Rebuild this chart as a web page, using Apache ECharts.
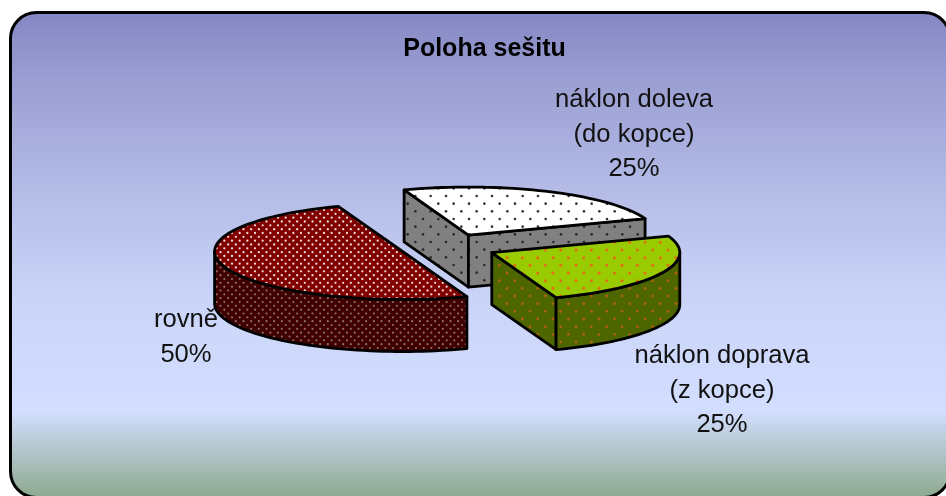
<!DOCTYPE html>
<html><head><meta charset="utf-8">
<style>html,body{margin:0;padding:0;background:#fff}#c{width:946px;height:496px}</style>
<script src="https://cdn.jsdelivr.net/npm/echarts@6/dist/echarts.min.js"></script>
</head><body><div id="c"></div>
<script>
// ---- data ----
var titleText = 'Poloha sešitu';
var categories = ['náklon doleva\n(do kopce)', 'náklon doprava\n(z kopce)', 'rovně'];
var values = [25, 25, 50];

// ---- pie layout (3D projection) ----
var firstAngle = 110, RX = 188, RY = 48, DEPTH = 52, CX = 448, CY = 247, EXPLODE_X = 0.257, EXPLODE_Y = 0.275;
var labelPos = [[634, 83], [722, 339], [186, 303]];
var LINE_H = 34.5, FONT = '"Liberation Sans", Arial, sans-serif';

function tile(bg, dot, nx, ny, ox, oy, r) {
  var S = 46, c = document.createElement('canvas');
  c.width = c.height = S;
  var g = c.getContext('2d');
  g.fillStyle = bg; g.fillRect(0, 0, S, S);
  g.fillStyle = dot;
  var px = S / nx, py = S / ny;
  for (var j = 0; j < ny; j++) for (var i = 0; i < nx; i++) {
    var x = ox + i * px + (j % 2 ? px / 2 : 0), y = oy + j * py;
    for (var a = -S; a <= S; a += S) for (var b = -S; b <= S; b += S) {
      g.beginPath(); g.arc(((x % S) + a), ((y % S) + b), r, 0, Math.PI * 2); g.fill();
    }
  }
  return { image: c, repeat: 'repeat' };
}
var fills = [
  { top: tile('#ffffff', '#333333', 3, 6, 32, 12, 1.3), side: tile('#808080', '#2a2a2a', 3, 6, 32, 12, 1.3) },
  { top: tile('#99cc00', '#e46e14', 3, 6, 8.7, 20, 1.5), side: tile('#4d6600', '#b06010', 3, 6, 8.7, 20, 1.4) },
  { top: tile('#800000', '#f0d8d8', 6, 12, 2, 3, 1.15), side: tile('#400000', '#8c7070', 6, 12, 2, 3, 1.1) }
];

var total = values.reduce(function (s, v) { return s + v; }, 0);
function rad(d) { return d * Math.PI / 180; }

function renderSlice(params, api) {
  var idx = params.dataIndex, before = 0;
  for (var i = 0; i < idx; i++) before += values[i];
  var v = api.value(0);
  var a0 = firstAngle - before / total * 360, a1 = a0 - v / total * 360, mid = (a0 + a1) / 2;
  var cx = CX + EXPLODE_X * RX * Math.cos(rad(mid)), cy = CY - EXPLODE_Y * RY * Math.sin(rad(mid));
  function P(t, dz) { return [cx + RX * Math.cos(rad(t)), cy - RY * Math.sin(rad(t)) + (dz || 0)]; }
  function arc(s, e, dz) {
    var pts = [], n = Math.max(2, Math.ceil(Math.abs(s - e) / 2));
    for (var k = 0; k <= n; k++) pts.push(P(s + (e - s) * k / n, dz));
    return pts;
  }
  var kids = [], f = fills[idx];
  function poly(points, fill) {
    kids.push({ type: 'polygon', shape: { points: points }, style: { fill: fill, stroke: '#000', lineWidth: 2.8, lineJoin: 'round' } });
  }
  var apex = [cx, cy], apexB = [cx, cy + DEPTH];
  // straight cut faces that look towards the viewer
  if (Math.sin(rad(a0 + 90)) < 0) { var p0 = P(a0), p0b = P(a0, DEPTH); poly([apex, p0, p0b, apexB], f.side); }
  if (Math.sin(rad(a1 - 90)) < 0) { var p1 = P(a1), p1b = P(a1, DEPTH); poly([apex, p1, p1b, apexB], f.side); }
  // curved rim: only the front half of the ellipse
  var lo = Math.max(a1, -180), hi = Math.min(a0, 0);
  if (hi > lo) poly(arc(hi, lo, 0).concat(arc(lo, hi, DEPTH)), f.side);
  // top face
  poly([apex].concat(arc(a0, a1, 0)), f.top);
  // label
  var pct = Math.round(v / total * 100) + '%';
  kids.push({
    type: 'text', x: labelPos[idx][0], y: labelPos[idx][1], z2: 10,
    style: { text: categories[idx] + '\n' + pct, font: '25.6px ' + FONT, fill: '#111', align: 'center', verticalAlign: 'top', lineHeight: LINE_H }
  });
  return { type: 'group', children: kids };
}

var chart = echarts.init(document.getElementById('c'), null, { renderer: 'canvas' });
chart.setOption({
  animation: false,
  backgroundColor: '#ffffff',
  graphic: [{
    type: 'rect', z: -1, silent: true,
    shape: { x: 10.5, y: 12.5, width: 939.5, height: 485, r: 26 },
    style: {
      stroke: '#000', lineWidth: 3,
      fill: { type: 'linear', x: 0, y: 0, x2: 0, y2: 1, colorStops: [
        { offset: 0, color: '#8487c3' }, { offset: 0.14, color: '#9a9ed2' }, { offset: 0.386, color: '#b6bee8' },
        { offset: 0.59, color: '#cad4f8' }, { offset: 0.82, color: '#d2deff' }, { offset: 1, color: '#8ca88c' }
      ] }
    }
  }],
  title: {
    text: titleText, left: 479.5, top: 32, textAlign: 'center',
    textStyle: { fontFamily: FONT, fontWeight: 'bold', fontSize: 25, color: '#000' }
  },
  series: [{
    type: 'custom', coordinateSystem: 'none', silent: true, renderItem: renderSlice,
    data: values.map(function (v, i) { return { name: categories[i], value: [v] }; })
  }]
});
</script></body></html>
